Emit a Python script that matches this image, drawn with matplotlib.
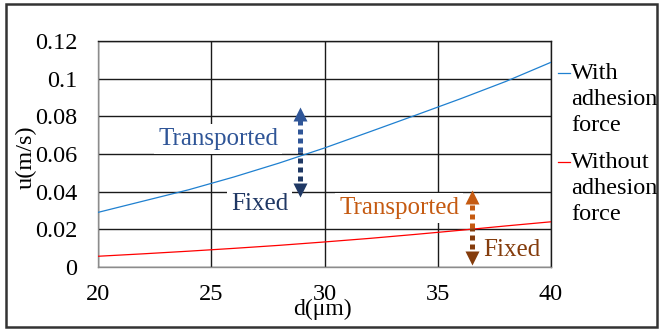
import matplotlib
matplotlib.use("Agg")
import matplotlib.pyplot as plt
from matplotlib.patches import Rectangle
from matplotlib.lines import Line2D

plt.rcParams['font.family'] = ['Liberation Serif', 'DejaVu Serif']

# particle diameter (um) and critical velocity (m/s)
d = [20, 22, 24, 26, 28, 30, 32, 34, 36, 38, 40]
u_with = [0.0290, 0.0350, 0.0410, 0.0478, 0.0552, 0.0632, 0.0718, 0.0805, 0.0893, 0.0985, 0.1087]
u_without = [0.0057, 0.0070, 0.0084, 0.0099, 0.0115, 0.0133, 0.0152, 0.0173, 0.0195, 0.0218, 0.0240]

xticks = [20, 25, 30, 35, 40]
yticks = [0, 0.02, 0.04, 0.06, 0.08, 0.1, 0.12]
ylabels = ['0', '0.02', '0.04', '0.06', '0.08', '0.1', '0.12']

W, H = 659, 331
def fx(x): return x / W
def fy(y): return 1 - y / H

fig = plt.figure(figsize=(W / 100, H / 100), dpi=100)
ax = fig.add_axes([fx(98), fy(267), fx(551) - fx(98), fy(41) - fy(267)])

ax.plot(d, u_with, color='#1f80d0', lw=0.9, zorder=5)
ax.plot(d, u_without, color='#ff0000', lw=0.9, zorder=5)

ax.set_xlim(20, 40)
ax.set_ylim(0, 0.12)
ax.set_xticks(xticks)
ax.set_xticklabels([str(t) for t in xticks])
ax.set_yticks(yticks)
ax.set_yticklabels(ylabels)
ax.tick_params(length=0, labelsize=17.5)
ax.tick_params(axis='y', pad=15)
ax.tick_params(axis='x', pad=12)
ax.grid(True, color='#1a1a1a', lw=1.0, zorder=1)
ax.set_axisbelow(True)
for s in ['top', 'right']:
    ax.spines[s].set_color('#1a1a1a')
for s in ['left', 'bottom']:
    ax.spines[s].set_color('#8c8c8c')
for s in ax.spines.values():
    s.set_linewidth(1.0)

fig.text(fx(26), fy(157), 'u(m/s)', rotation=90, ha='center', va='center', fontsize=17.5)
fig.text(fx(322), fy(309), 'd(μm)', ha='center', va='center', fontsize=17)

box = dict(facecolor='white', edgecolor='none', pad=3)
ax.text(25.3, 0.068, 'Transported', color='#2f5597', fontsize=18, ha='center', va='center', bbox=box, zorder=3)
ax.text(27.13, 0.0334, 'Fixed', color='#203864', fontsize=18, ha='center', va='center', bbox=box, zorder=3)
ax.text(33.29, 0.0313, 'Transported', color='#c55a11', fontsize=18, ha='center', va='center', bbox=box, zorder=3)
ax.text(38.26, 0.0090, 'Fixed', color='#843c0c', fontsize=18, ha='center', va='center', bbox=box, zorder=3)

# double-headed dotted arrows: lighter upper half, darker lower half
def arrow(x, lo, hi, c_up, c_dn):
    mid = (lo + hi) / 2
    head = 0.0037
    dots = (0, (1.0, 0.8))
    ax.plot([x, x], [mid, hi - head], color=c_up, lw=3.6, ls=dots, dash_capstyle='butt', zorder=6)
    ax.plot([x, x], [lo + head, mid], color=c_dn, lw=3.6, ls=dots, dash_capstyle='butt', zorder=6)
    ax.plot([x], [hi - head], marker='^', ms=9.5, color=c_up, mec='none', zorder=7)
    ax.plot([x], [lo + head], marker='v', ms=9.5, color=c_dn, mec='none', zorder=7)

arrow(28.92, 0.037, 0.085, '#2f5597', '#1f3864')
arrow(36.5, 0.001, 0.0409, '#c55a11', '#843c0c')

# legend at the right of the plot
for y, col, lab in [(73, '#1f80d0', 'With\nadhesion\nforce'), (162, '#ff0000', 'Without\nadhesion\nforce')]:
    fig.add_artist(Line2D([fx(558), fx(570)], [fy(y), fy(y)], color=col, lw=0.9, transform=fig.transFigure))
    fig.text(fx(571), fy(y - 10), lab, ha='left', va='top', fontsize=17.5, linespacing=1.3)

fig.add_artist(Rectangle((fx(6), fy(327)), fx(657) - fx(6), fy(4) - fy(327), transform=fig.transFigure,
                         fill=False, ec='#333333', lw=1.8))

fig.savefig('out.png', dpi=100)
